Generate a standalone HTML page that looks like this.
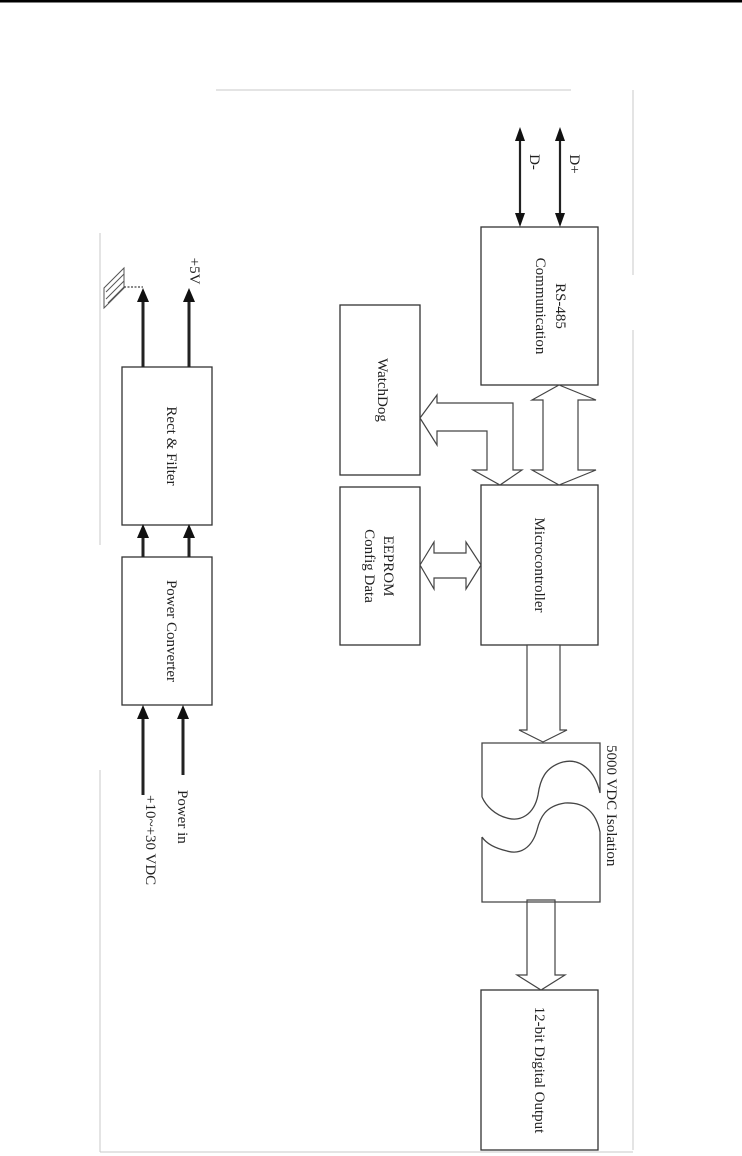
<!DOCTYPE html>
<html><head><meta charset="utf-8"><style>
html,body{margin:0;padding:0;background:#fff;}
svg{display:block;}
text{font-family:"Liberation Serif",serif;font-size:15px;fill:#222;}
</style></head><body>
<svg width="742" height="1156" viewBox="0 0 742 1156" xmlns="http://www.w3.org/2000/svg">
<rect x="0" y="0" width="742" height="2.5" fill="#000"/>
<g stroke="#c8c8c8" stroke-width="1" fill="none">
<line x1="216" y1="90" x2="571" y2="90"/>
<line x1="633" y1="90" x2="633" y2="275"/>
<line x1="633" y1="330" x2="633" y2="1150"/>
<line x1="100" y1="233" x2="100" y2="545"/>
<line x1="100" y1="770" x2="100" y2="1152"/>
<line x1="100" y1="1152" x2="633" y2="1152"/>
</g>
<g stroke="#333" stroke-width="1.3" fill="#fff">
<rect x="122" y="367" width="90" height="158"/>
<rect x="122" y="557" width="90" height="148"/>
<rect x="481" y="227" width="117" height="158"/>
<rect x="340" y="305" width="80" height="170"/>
<rect x="340" y="487" width="80" height="158"/>
<rect x="481" y="485" width="117" height="160"/>
<rect x="481" y="990" width="117" height="160"/>
</g>
<g stroke="#222" stroke-width="3">
<line x1="143" y1="300" x2="143" y2="367"/>
<line x1="189" y1="300" x2="189" y2="367"/>
<line x1="143" y1="535" x2="143" y2="557"/>
<line x1="189" y1="535" x2="189" y2="557"/>
<line x1="143" y1="715" x2="143" y2="795"/>
<line x1="183" y1="715" x2="183" y2="775"/>
</g>
<g fill="#111">
<polygon points="143,288 137,302 149,302"/>
<polygon points="189,288 183,302 195,302"/>
<polygon points="143,524 137,538 149,538"/>
<polygon points="189,524 183,538 195,538"/>
<polygon points="143,705 137,719 149,719"/>
<polygon points="183,705 177,719 189,719"/>
</g>
<g stroke="#555" stroke-width="1" fill="none">
<polygon points="124,268 124,288 104,308 104,288"/>
<line x1="124" y1="274" x2="106" y2="292"/>
<line x1="124" y1="281" x2="106" y2="299"/>
<line x1="124" y1="287" x2="108" y2="303"/>
<line x1="124" y1="287" x2="143" y2="287" stroke-dasharray="2,1.5" stroke="#111"/>
</g>
<g stroke="#222" stroke-width="2.2">
<line x1="520" y1="138" x2="520" y2="216"/>
<line x1="560" y1="138" x2="560" y2="216"/>
</g>
<g fill="#111">
<polygon points="520,127 515,141 525,141"/>
<polygon points="560,127 555,141 565,141"/>
<polygon points="520,227 515,213 525,213"/>
<polygon points="560,227 555,213 565,213"/>
</g>
<g stroke="#444" stroke-width="1.2" fill="#fff" stroke-linejoin="miter">
<polygon points="559,385 532,400 543,400 543,470 532,470 559,485 596,470 578,470 578,400 596,400"/>
<polygon points="420,418 437,395 437,403 513,403 513,470 522,470 500,485 473,470 487,470 487,431 437,431 437,445"/>
<polygon points="420,565 434,542 434,553 466,553 466,542 481,565 466,589 466,578 434,578 434,589"/>
<polygon points="527,645 560,645 560,730 567,730 543,742 519,730 527,730"/>
<polygon points="527,900 555,900 555,975 565,975 541,990 517,975 527,975"/>
</g>
<g stroke="#444" stroke-width="1.3" fill="none">
<path d="M482,797 L482,743 L600,743 L600,793 C595,770 580,758 563,762 C545,767 540,780 538,795 C534,815 520,822 507,818 C495,815 486,806 482,797"/>
<path d="M482,837 L482,902 L600,902 L600,832 C596,812 585,802 565,803 C545,806 540,818 537,830 C532,848 520,855 507,851 C494,848 486,843 482,837"/>
</g>
<g>
<text transform="translate(167,446) rotate(90)" text-anchor="middle">Rect &amp; Filter</text>
<text transform="translate(167,631) rotate(90)" text-anchor="middle">Power Converter</text>
<text transform="translate(190,271) rotate(90)" text-anchor="middle">+5V</text>
<text transform="translate(178,790) rotate(90)">Power in</text>
<text transform="translate(146,795) rotate(90)">+10~+30 VDC</text>
<text transform="translate(530,162) rotate(90)" text-anchor="middle">D-</text>
<text transform="translate(570,164) rotate(90)" text-anchor="middle">D+</text>
<text transform="translate(556,306) rotate(90)" text-anchor="middle">RS-485</text>
<text transform="translate(536,306) rotate(90)" text-anchor="middle">Communication</text>
<text transform="translate(378,390) rotate(90)" text-anchor="middle">WatchDog</text>
<text transform="translate(384,566) rotate(90)" text-anchor="middle">EEPROM</text>
<text transform="translate(365,566) rotate(90)" text-anchor="middle">Config Data</text>
<text transform="translate(535,565) rotate(90)" text-anchor="middle">Microcontroller</text>
<text transform="translate(607,745) rotate(90)">5000 VDC Isolation</text>
<text transform="translate(535,1070) rotate(90)" text-anchor="middle">12-bit Digital Output</text>
</g>
</svg>
</body></html>
